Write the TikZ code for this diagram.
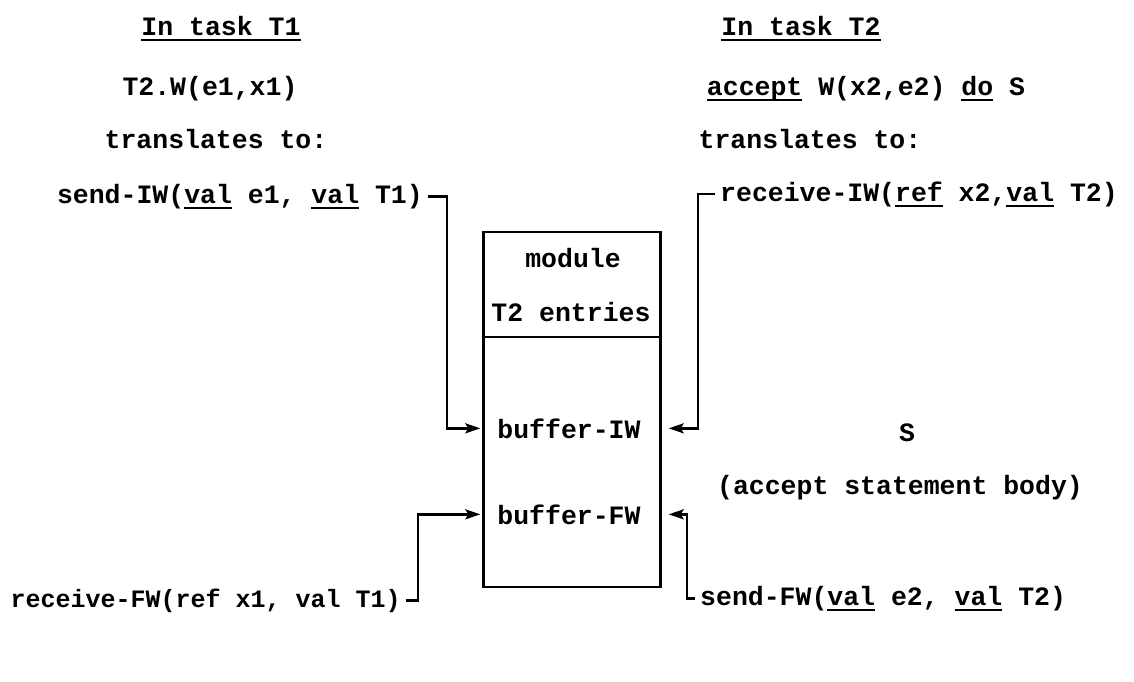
\documentclass[tikz,border=0pt]{standalone}
\usepackage{fontspec}
\setmonofont{Liberation Mono}
\usetikzlibrary{arrows.meta}
\newcommand\ulx[1]{\setbox0\hbox{#1}\leavevmode\rlap{\rule[-6pt]{\wd0}{2.4pt}}\box0\relax}
\begin{document}
\begin{tikzpicture}[x=1pt,y=-1pt,
  txt/.style={font=\ttfamily\bfseries\fontsize{26.5}{30}\selectfont, inner sep=0pt, anchor=base},
  small/.style={font=\ttfamily\bfseries\fontsize{25}{30}\selectfont},
  conn/.style={line width=2.4pt, -{Stealth[length=15pt,width=10pt,inset=3pt]}},
  boxline/.style={line width=2.4pt}]
\useasboundingbox (0,0) rectangle (1134,681);
% left column
\node[txt] (h1) at (221,35) {\ulx{In task T1}};
\node[txt] (c1) at (210,95) {T2.W(e1,x1)};
\node[txt] (tr1) at (216,148) {translates to:};
\node[txt, anchor=base east] (sendIW) at (423,203) {send-IW(\ulx{val} e1, \ulx{val} T1)};
\node[txt, small, anchor=base east] (recvFW) at (401,607) {receive-FW(ref x1, val T1)};
% right column
\node[txt] (h2) at (801,35) {\ulx{In task T2}};
\node[txt] (c2) at (866,95) {\ulx{accept} W(x2,e2) \ulx{do} S};
\node[txt] (tr2) at (810,148) {translates to:};
\node[txt, anchor=base west] (recvIW) at (720,201) {receive-IW(\ulx{ref} x2,\ulx{val} T2)};
\node[txt] (S) at (907,441) {S};
\node[txt] (body) at (900,494) {(accept statement body)};
\node[txt, anchor=base west] (sendFW) at (700,605) {send-FW(\ulx{val} e2, \ulx{val} T2)};
% module box
\node[draw, boxline, minimum width=177pt, minimum height=355pt, inner sep=0pt] (box) at (572,409.5) {};
\coordinate (div) at (0,337);
\draw[boxline] (box.west |- div) -- (box.east |- div);
\node[txt] (mod) at (573,267) {module};
\node[txt] (ent) at (571,321) {T2 entries};
\node[txt] (bIW) at (569,438) {buffer-IW};
\node[txt] (bFW) at (569,524) {buffer-FW};
% connector columns
\coordinate (vL1) at (447,0);
\coordinate (vR1) at (698,0);
\coordinate (vL2) at (418,0);
\coordinate (vR2) at (687,0);
\draw[conn] ([xshift=5pt]sendIW.east) -- (sendIW.east -| vL1) |- ([xshift=-2pt]box.west |- bIW);
\draw[conn] ([xshift=-5pt]recvIW.west) -- (recvIW.west -| vR1) |- ([xshift=7pt]box.east |- bIW);
\draw[conn] ([xshift=5pt]recvFW.east) -- (recvFW.east -| vL2) |- ([xshift=-2pt]box.west |- bFW);
\draw[conn] ([xshift=-5pt]sendFW.west) -- (sendFW.west -| vR2) |- ([xshift=7pt]box.east |- bFW);
\end{tikzpicture}
\end{document}
